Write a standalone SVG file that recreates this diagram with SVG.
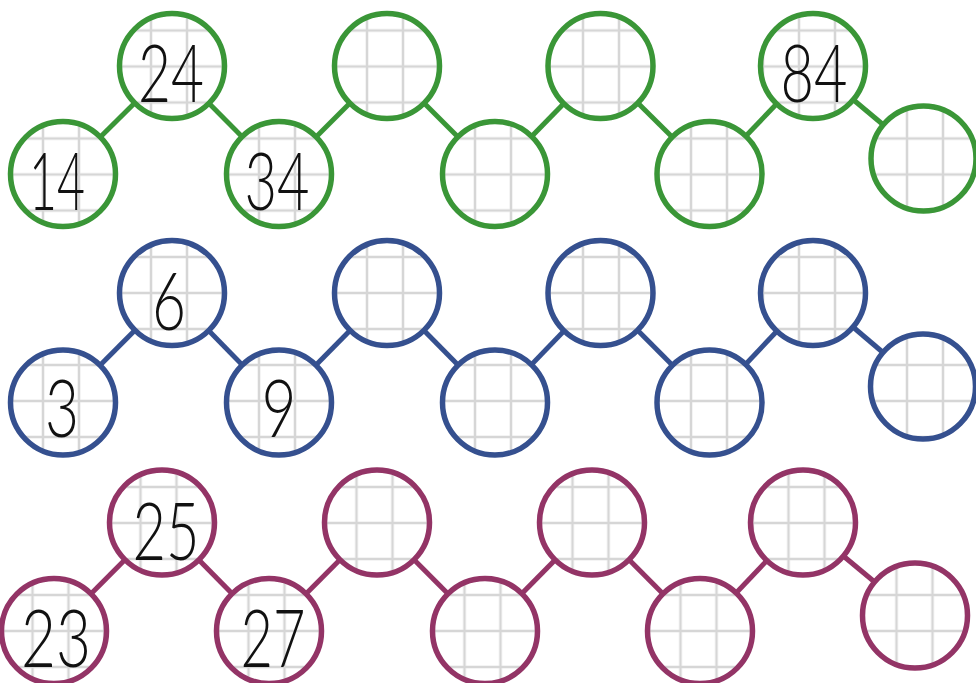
<svg xmlns="http://www.w3.org/2000/svg" width="976" height="683" viewBox="0 0 976 683">
<style>
.c{stroke-width:5.5}
.g{stroke:#3a9637}
.b{stroke:#35508f}
.p{stroke:#933466}
.cn line{stroke-width:5;stroke-linecap:butt}
.t{font-family:"Lato","Open Sans","DejaVu Sans",sans-serif;font-weight:300;font-size:80px;fill:#111;text-anchor:middle}
</style>
<defs>
<pattern id="grid1" patternUnits="userSpaceOnUse" x="-11" y="12.5" width="36" height="36">
<rect width="36" height="36" fill="#fff"/>
<path d="M18 0V36M0 18H36" stroke="#d6d6d6" stroke-width="2.5"/>
</pattern>
<pattern id="grid2" patternUnits="userSpaceOnUse" x="-11" y="239" width="36" height="36">
<rect width="36" height="36" fill="#fff"/>
<path d="M18 0V36M0 18H36" stroke="#d6d6d6" stroke-width="2.5"/>
</pattern>
<pattern id="grid3" patternUnits="userSpaceOnUse" x="14.5" y="469" width="36" height="36">
<rect width="36" height="36" fill="#fff"/>
<path d="M18 0V36M0 18H36" stroke="#d6d6d6" stroke-width="2.5"/>
</pattern>
</defs>
<rect width="976" height="683" fill="#fff"/>
<g id="connectors" class="cn">
<g class="g">
<line x1="63" y1="174" x2="172" y2="66"/>
<line x1="172" y1="66" x2="279" y2="174"/>
<line x1="279" y1="174" x2="387" y2="66"/>
<line x1="387" y1="66" x2="495" y2="174"/>
<line x1="495" y1="174" x2="600.5" y2="66"/>
<line x1="600.5" y1="66" x2="709.5" y2="174"/>
<line x1="709.5" y1="174" x2="813" y2="66"/>
<line x1="813" y1="66" x2="923.5" y2="158.5"/>
</g>
<g class="b">
<line x1="63" y1="402.5" x2="172" y2="293"/>
<line x1="172" y1="293" x2="279" y2="402.5"/>
<line x1="279" y1="402.5" x2="387" y2="293"/>
<line x1="387" y1="293" x2="495" y2="402.5"/>
<line x1="495" y1="402.5" x2="600.5" y2="293"/>
<line x1="600.5" y1="293" x2="709.5" y2="402.5"/>
<line x1="709.5" y1="402.5" x2="813" y2="293"/>
<line x1="813" y1="293" x2="923" y2="386.5"/>
</g>
<g class="p">
<line x1="54" y1="631" x2="162" y2="522.5"/>
<line x1="162" y1="522.5" x2="269" y2="631"/>
<line x1="269" y1="631" x2="377" y2="522.5"/>
<line x1="377" y1="522.5" x2="485" y2="631"/>
<line x1="485" y1="631" x2="592" y2="522.5"/>
<line x1="592" y1="522.5" x2="700" y2="631"/>
<line x1="700" y1="631" x2="803" y2="522.5"/>
<line x1="803" y1="522.5" x2="915" y2="615.5"/>
</g>
</g>
<g id="n1-1"><circle class="c g" cx="63" cy="174" r="52.5" fill="url(#grid1)"/><text class="t" x="57" y="210" textLength="56" lengthAdjust="spacingAndGlyphs">14</text></g>
<g id="n1-2"><circle class="c g" cx="172" cy="66" r="52.5" fill="url(#grid1)"/><text class="t" x="171" y="102" textLength="66" lengthAdjust="spacingAndGlyphs">24</text></g>
<g id="n1-3"><circle class="c g" cx="279" cy="174" r="52.5" fill="url(#grid1)"/><text class="t" x="277" y="210" textLength="65" lengthAdjust="spacingAndGlyphs">34</text></g>
<g id="n1-4"><circle class="c g" cx="387" cy="66" r="52.5" fill="url(#grid1)"/></g>
<g id="n1-5"><circle class="c g" cx="495" cy="174" r="52.5" fill="url(#grid1)"/></g>
<g id="n1-6"><circle class="c g" cx="600.5" cy="66" r="52.5" fill="url(#grid1)"/></g>
<g id="n1-7"><circle class="c g" cx="709.5" cy="174" r="52.5" fill="url(#grid1)"/></g>
<g id="n1-8"><circle class="c g" cx="813" cy="66" r="52.5" fill="url(#grid1)"/><text class="t" x="814" y="102" textLength="67" lengthAdjust="spacingAndGlyphs">84</text></g>
<g id="n1-9"><circle class="c g" cx="923.5" cy="158.5" r="52.5" fill="url(#grid1)"/></g>
<g id="n2-1"><circle class="c b" cx="63" cy="402.5" r="52.5" fill="url(#grid2)"/><text class="t" x="62" y="437" textLength="34" lengthAdjust="spacingAndGlyphs">3</text></g>
<g id="n2-2"><circle class="c b" cx="172" cy="293" r="52.5" fill="url(#grid2)"/><text class="t" x="169" y="330" textLength="34" lengthAdjust="spacingAndGlyphs">6</text></g>
<g id="n2-3"><circle class="c b" cx="279" cy="402.5" r="52.5" fill="url(#grid2)"/><text class="t" x="279" y="437" textLength="35" lengthAdjust="spacingAndGlyphs">9</text></g>
<g id="n2-4"><circle class="c b" cx="387" cy="293" r="52.5" fill="url(#grid2)"/></g>
<g id="n2-5"><circle class="c b" cx="495" cy="402.5" r="52.5" fill="url(#grid2)"/></g>
<g id="n2-6"><circle class="c b" cx="600.5" cy="293" r="52.5" fill="url(#grid2)"/></g>
<g id="n2-7"><circle class="c b" cx="709.5" cy="402.5" r="52.5" fill="url(#grid2)"/></g>
<g id="n2-8"><circle class="c b" cx="813" cy="293" r="52.5" fill="url(#grid2)"/></g>
<g id="n2-9"><circle class="c b" cx="923" cy="386.5" r="52.5" fill="url(#grid2)"/></g>
<g id="n3-1"><circle class="c p" cx="54" cy="631" r="52.5" fill="url(#grid3)"/><text class="t" x="56" y="667" textLength="70" lengthAdjust="spacingAndGlyphs">23</text></g>
<g id="n3-2"><circle class="c p" cx="162" cy="522.5" r="52.5" fill="url(#grid3)"/><text class="t" x="166" y="560" textLength="67" lengthAdjust="spacingAndGlyphs">25</text></g>
<g id="n3-3"><circle class="c p" cx="269" cy="631" r="52.5" fill="url(#grid3)"/><text class="t" x="273" y="667" textLength="65" lengthAdjust="spacingAndGlyphs">27</text></g>
<g id="n3-4"><circle class="c p" cx="377" cy="522.5" r="52.5" fill="url(#grid3)"/></g>
<g id="n3-5"><circle class="c p" cx="485" cy="631" r="52.5" fill="url(#grid3)"/></g>
<g id="n3-6"><circle class="c p" cx="592" cy="522.5" r="52.5" fill="url(#grid3)"/></g>
<g id="n3-7"><circle class="c p" cx="700" cy="631" r="52.5" fill="url(#grid3)"/></g>
<g id="n3-8"><circle class="c p" cx="803" cy="522.5" r="52.5" fill="url(#grid3)"/></g>
<g id="n3-9"><circle class="c p" cx="915" cy="615.5" r="52.5" fill="url(#grid3)"/></g>
</svg>
